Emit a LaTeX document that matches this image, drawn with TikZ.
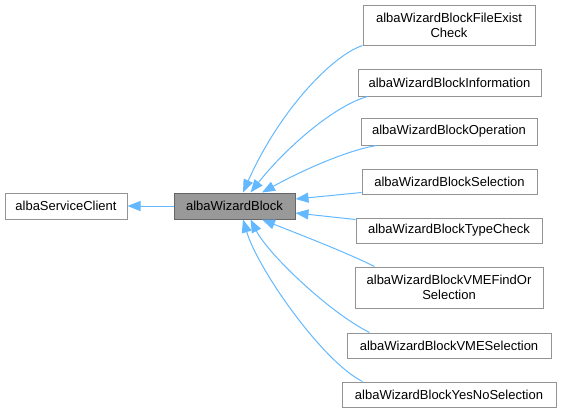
\documentclass[tikz,border=0pt]{standalone}
\usepackage{fontspec}
\setmainfont{Liberation Sans}
\usetikzlibrary{arrows.meta, calc}
\definecolor{edgeblue}{RGB}{99, 184, 255}
\definecolor{boxgray}{RGB}{102, 102, 102}
\definecolor{curfill}{RGB}{153, 153, 153}

\begin{document}
\begin{tikzpicture}[x=1pt, y=-1pt,
  classbox/.style={draw=boxgray!70, fill=white, line width=1pt, inner sep=0pt, align=center, font=\fontsize{13}{15}\selectfont},
  curbox/.style={classbox, draw=boxgray, fill=curfill},
  inherit/.style={draw=edgeblue, line width=1pt, {Triangle[length=13pt, width=10pt]}-}]
  \useasboundingbox (0,0) rectangle (561,413);

  % Base class and the documented class
  \node[classbox, minimum width=122, minimum height=26] (client) at (66,206) {albaServiceClient};
  \node[curbox, minimum width=121, minimum height=26] (block) at (234.5,206) {albaWizardBlock};

  % Derived classes
  \node[classbox, minimum width=172, minimum height=40] (fileexist) at (449,25) {albaWizardBlockFileExist\\Check};
  \node[classbox, minimum width=183, minimum height=27] (info) at (449.5,82.5) {albaWizardBlockInformation};
  \node[classbox, minimum width=176, minimum height=27] (oper) at (449,131.5) {albaWizardBlockOperation};
  \node[classbox, minimum width=175, minimum height=25] (sel) at (449.5,181.5) {albaWizardBlockSelection};
  \node[classbox, minimum width=186, minimum height=25] (type) at (449,230.5) {albaWizardBlockTypeCheck};
  \node[classbox, minimum width=188, minimum height=41] (findor) at (449,287.5) {albaWizardBlockVMEFindOr\\Selection};
  \node[classbox, minimum width=204, minimum height=25] (vmesel) at (449,345.5) {albaWizardBlockVMESelection};
  \node[classbox, minimum width=214, minimum height=25] (yesno) at (449,394.5) {albaWizardBlockYesNoSelection};

  % Inheritance arrows
  \draw[inherit] (client.east) -- (block.west);
  \draw[inherit] ($(block.north)+(8.5,0)$) .. controls +(37,-83) and +(-30,10) .. (fileexist.south west);
  \draw[inherit] ($(block.north)+(16,0)$) .. controls +(34,-43) and +(-35,10) .. ($(info.south west)+(10,0)$);
  \draw[inherit] ($(block.north)+(27.5,0)$) .. controls +(40,-22) and +(-30,5) .. ($(oper.south west)+(16,0)$);
  \draw[inherit] ($(block.east)+(0,-7)$) -- ($(sel.south west)+(0,-2)$);
  \draw[inherit] ($(block.east)+(0,7)$) -- ($(type.north west)+(0,2)$);
  \draw[inherit] ($(block.south)+(27.5,0)$) .. controls +(30,12) and +(-30,-15) .. ($(findor.north west)+(20,0)$);
  \draw[inherit] ($(block.south)+(16,0)$) .. controls +(18,35) and +(-40,-20) .. ($(vmesel.north west)+(23,0)$);
  \draw[inherit] ($(block.south)+(8.5,0)$) .. controls +(15,50) and +(-40,-20) .. ($(yesno.north west)+(21,0)$);
\end{tikzpicture}
\end{document}
